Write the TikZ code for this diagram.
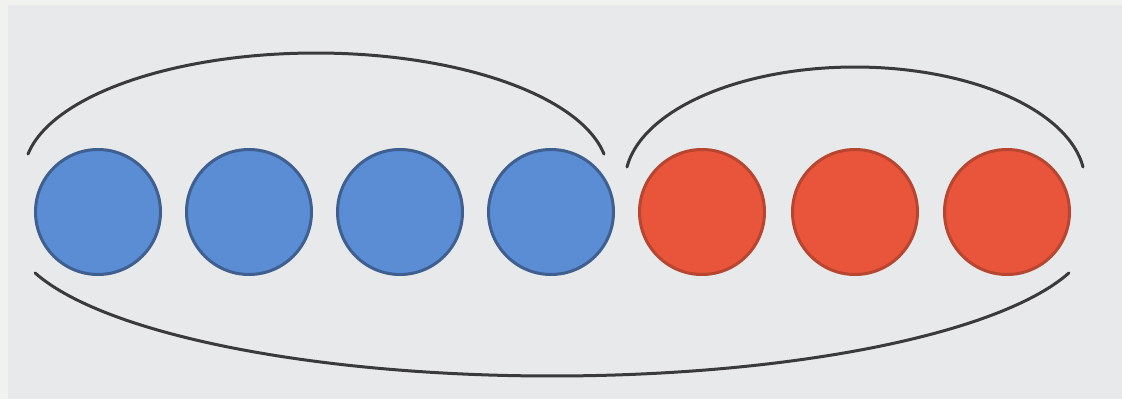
\documentclass[tikz,border=0pt]{standalone}
\definecolor{bgout}{HTML}{F1F1EF}
\definecolor{bgin}{HTML}{E8E9EB}
\definecolor{bluefill}{HTML}{5A8DD3}
\definecolor{blueedge}{HTML}{3E5F8F}
\definecolor{redfill}{HTML}{E8553B}
\definecolor{rededge}{HTML}{B8452F}
\definecolor{arcline}{HTML}{3A3A3C}
\begin{document}
\begin{tikzpicture}[x=1pt,y=-1pt,
  ball/.style={circle, inner sep=0pt, minimum size=125pt, line width=3pt},
  blueball/.style={ball, fill=bluefill, draw=blueedge},
  redball/.style={ball, fill=redfill, draw=rededge},
  grouparc/.style={draw=arcline, line width=3pt, line cap=round}]
\useasboundingbox (0,0) rectangle (1122,399);
\fill[bgout] (0,0) rectangle (1122,399);
\fill[bgin] (8,5) rectangle (1122,399);
\node[blueball] (b1) at (98,212) {};
\node[blueball] (b2) at (249,212) {};
\node[blueball] (b3) at (400,212) {};
\node[blueball] (b4) at (551,212) {};
\node[redball] (r1) at (702,212) {};
\node[redball] (r2) at (855,212) {};
\node[redball] (r3) at (1007,212) {};
% group arcs
\draw[grouparc] plot[domain=9.5:170.5, samples=90] ({316+292*cos(\x)},{174-121*sin(\x)});
\draw[grouparc] plot[domain=7.5:172.5, samples=90] ({855+230*cos(\x)},{182-115*sin(\x)});
\draw[grouparc] plot[domain=16.8:163.2, samples=120] ({552+540*cos(\x)},{231+145*sin(\x)});
\end{tikzpicture}
\end{document}
